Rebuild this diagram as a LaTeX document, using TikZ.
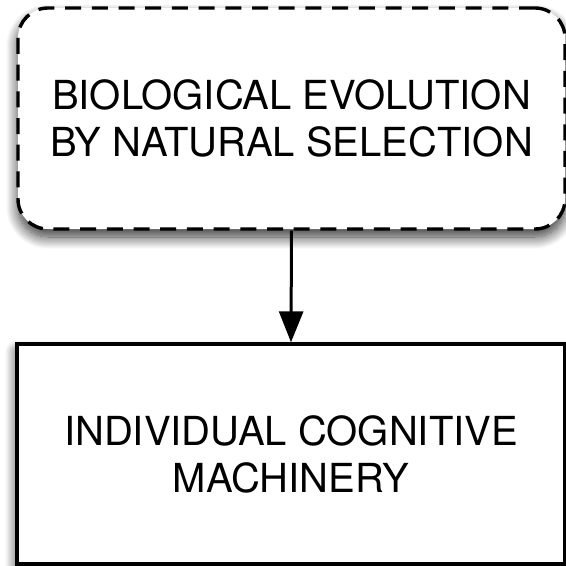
\documentclass[tikz,border=0pt]{standalone}
\usepackage{fontspec}
\setmainfont{TeX Gyre Heros}
\usetikzlibrary{arrows.meta,shadows.blur}
\tikzset{
  softshadow/.style={blur shadow={shadow xshift=0pt, shadow yshift=-8pt,
      shadow blur radius=12pt, shadow blur steps=16, shadow opacity=80}},
  boxtext/.style={font=\fontsize{40}{47}\selectfont, align=center,
      text=black, inner sep=0pt},
  stagebox/.style={boxtext, draw=black, fill=white, line width=3.4pt,
      softshadow},
  dashedbox/.style={stagebox, rounded corners=30pt,
      dash pattern=on 16pt off 10.7pt},
  flow/.style={line width=3pt, -{Triangle[width=24pt,length=31pt]}}
}
\begin{document}
\begin{tikzpicture}[x=1pt,y=-1pt]
  \useasboundingbox (0,0) rectangle (566,566);
  \node[dashedbox, minimum width=547pt, minimum height=221pt]
    (evo) at (291.5,118.5) {BIOLOGICAL EVOLUTION\\BY NATURAL SELECTION};
  \node[stagebox, minimum width=548pt, minimum height=220pt]
    (cog) at (291,454) {INDIVIDUAL COGNITIVE\\MACHINERY};
  \draw[flow] (evo.south) -- (cog.north);
\end{tikzpicture}
\end{document}
